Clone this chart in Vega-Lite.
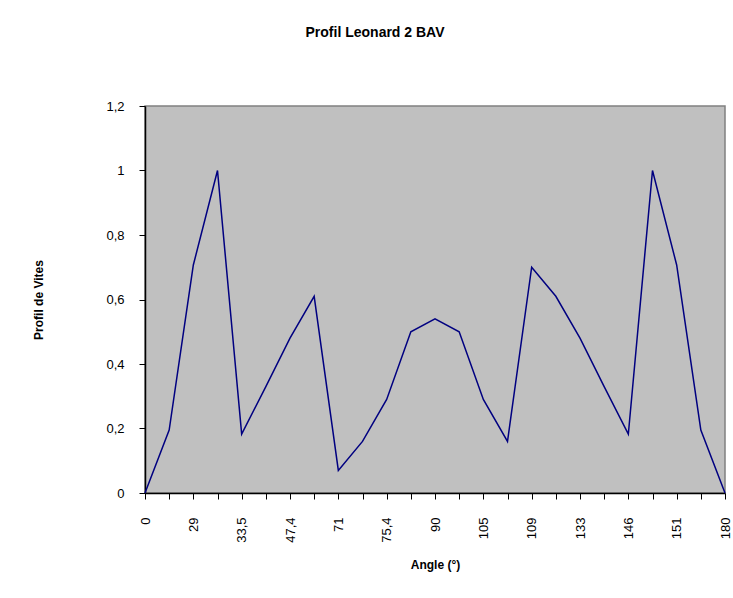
{
  "$schema": "https://vega.github.io/schema/vega-lite/v6.json",
  "width": 580,
  "height": 387,
  "autosize": {"type": "none"},
  "padding": {"left": 145, "top": 106, "right": 8, "bottom": 105},
  "background": "white",
  "title": {
    "text": "Profil Leonard 2 BAV",
    "font": "Liberation Sans",
    "fontSize": 14,
    "fontWeight": "bold",
    "color": "black",
    "anchor": "middle",
    "dx": -60,
    "offset": 60
  },
  "data": {
    "values": [
      {"angle": "0", "vitesse": 0},
      {"angle": "14,5", "vitesse": 0.195},
      {"angle": "29", "vitesse": 0.707},
      {"angle": "31", "vitesse": 1.0},
      {"angle": "33,5", "vitesse": 0.183},
      {"angle": "40", "vitesse": 0.33},
      {"angle": "47,4", "vitesse": 0.48},
      {"angle": "60", "vitesse": 0.61},
      {"angle": "71", "vitesse": 0.07},
      {"angle": "73", "vitesse": 0.16},
      {"angle": "75,4", "vitesse": 0.29},
      {"angle": "83", "vitesse": 0.5},
      {"angle": "90", "vitesse": 0.54},
      {"angle": "97", "vitesse": 0.5},
      {"angle": "105", "vitesse": 0.29},
      {"angle": "107", "vitesse": 0.16},
      {"angle": "109", "vitesse": 0.7},
      {"angle": "121", "vitesse": 0.61},
      {"angle": "133", "vitesse": 0.48},
      {"angle": "140", "vitesse": 0.33},
      {"angle": "146", "vitesse": 0.183},
      {"angle": "149", "vitesse": 1.0},
      {"angle": "151", "vitesse": 0.707},
      {"angle": "166", "vitesse": 0.195},
      {"angle": "180", "vitesse": 0}
    ]
  },
  "mark": {"type": "line", "color": "#000080", "strokeWidth": 1.5},
  "encoding": {
    "x": {
      "field": "angle",
      "type": "ordinal",
      "sort": null,
      "scale": {"type": "point", "padding": 0},
      "axis": {
        "title": "Angle (°)",
        "labelAngle": -90,
        "labelExpr": "indexof(['0','29','33,5','47,4','71','75,4','90','105','109','133','146','151','180'], datum.value) >= 0 ? datum.value : ''",
        "labelPadding": 18,
        "titlePadding": 17
      }
    },
    "y": {
      "field": "vitesse",
      "type": "quantitative",
      "scale": {"domain": [0, 1.2], "nice": false},
      "axis": {
        "title": "Profil de Vites",
        "values": [0, 0.2, 0.4, 0.6, 0.8, 1, 1.2],
        "labelExpr": "replace(format(datum.value, '.1~f'), '.', ',')",
        "labelPadding": 15,
        "titlePadding": 60,
        "grid": false
      }
    }
  },
  "config": {
    "view": {"fill": "#C0C0C0", "stroke": "#808080", "strokeWidth": 1.5},
    "axis": {
      "domainColor": "black",
      "domainWidth": 1.5,
      "tickColor": "black",
      "tickSize": 6,
      "grid": false,
      "labelFont": "Liberation Sans",
      "labelFontSize": 13,
      "labelColor": "black",
      "titleFont": "Liberation Sans",
      "titleFontSize": 12,
      "titleFontWeight": "bold",
      "titleColor": "black"
    }
  }
}
